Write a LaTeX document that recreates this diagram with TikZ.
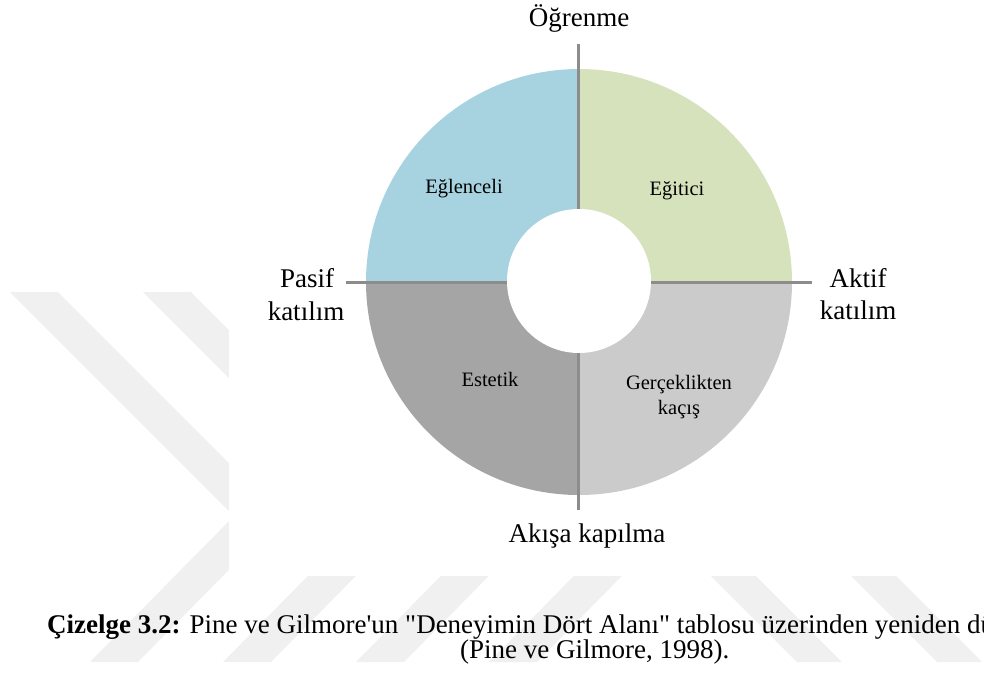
\documentclass[tikz,border=0pt]{standalone}
\usepackage{fontspec}
\setmainfont{Liberation Serif}[Ligatures=TeXOff]
\usepackage{tikz}
\usetikzlibrary{calc}
\usepackage{xcolor}

\definecolor{egblue}{HTML}{A7D3E0}
\definecolor{eggreen}{HTML}{D6E2BB}
\definecolor{egdark}{HTML}{A5A5A5}
\definecolor{eglight}{HTML}{CBCBCB}
\definecolor{axisgray}{HTML}{8C8C8C}

\begin{document}
\begin{tikzpicture}[x=1pt, y=-1pt,
		lbl/.style={font=\fontsize{27}{33}\selectfont, inner sep=0pt, anchor=base},
		sm/.style={font=\fontsize{20.5}{25}\selectfont, inner sep=0pt, anchor=base},
		axis/.style={draw=axisgray, line width=3pt}]
		\useasboundingbox (0,0) rectangle (984,673);
		
		% watermark behind the figure
		\foreach \k in {0,...,3}
			\fill [black!6] ({10+133*\k},292) -- ++(48,0) -- ({282+133*\k},516) -- ({138+133*\k},662) -- ++(-48,0) -- ({234+133*\k},516) -- cycle;
		\foreach \a in {710,850}
			\fill [black!6] (\a-283,292) -- ++(45,0) -- (\a+132,662) -- ++(-45,0) -- cycle;
		\fill [white] (229,0) rectangle (984,576);
		
		\coordinate (O) at (579,282);
		\fill [eggreen] (O) -- ++(0:213pt) arc [start angle=0, end angle=90, radius=213pt] -- cycle;
		\fill [egblue] (O) -- ++(90:213pt) arc [start angle=90, end angle=180, radius=213pt] -- cycle;
		\fill [egdark] (O) -- ++(180:213pt) arc [start angle=180, end angle=270, radius=213pt] -- cycle;
		\fill [eglight] (O) -- ++(270:213pt) arc [start angle=270, end angle=360, radius=213pt] -- cycle;
		
		\coordinate (top) at (578,44);
		\coordinate (bot) at (578,510);
		\coordinate (lft) at (346,282);
		\coordinate (rgt) at (812,282);
		\draw [axis] (top) -- (bot);
		\draw [axis] (lft) -- (rgt);
		\fill [white] (579,281) circle [radius=72pt];
		
		\node [lbl] (ogrenme) at (579,26) {Öğrenme};
		\node [lbl] (pasif) at (307,287) {Pasif};
		\node [lbl] (pasifk) at (306,320) {katılım};
		\node [lbl] (aktif) at (858,287) {Aktif};
		\node [lbl] (aktifk) at (858,319) {katılım};
		\node [lbl] (akisa) at (587,542) {Akışa kapılma};
		
		\node [sm] (eglenceli) at (464,193) {Eğlenceli};
		\node [sm] (egitici) at (677,195) {Eğitici};
		\node [sm] (estetik) at (490,386) {Estetik};
		\node [sm] (gercek) at (679,389) {Gerçeklikten};
		\node [sm] (kacis) at (679,414) {kaçış};
		
		\begin{scope}
			\clip (0,0) rectangle (984,673);
			\node [lbl, anchor=base west] (cap) at (47,633) {\textbf{Çizelge 3.2:} Pine ve Gilmore'un "Deneyimin Dört Alanı" tablosu üzerinden yeniden dü};
		\end{scope}
		\node [lbl, anchor=base west] (capb) at (460,658) {(Pine ve Gilmore, 1998).};
	\end{tikzpicture}
\end{document}
